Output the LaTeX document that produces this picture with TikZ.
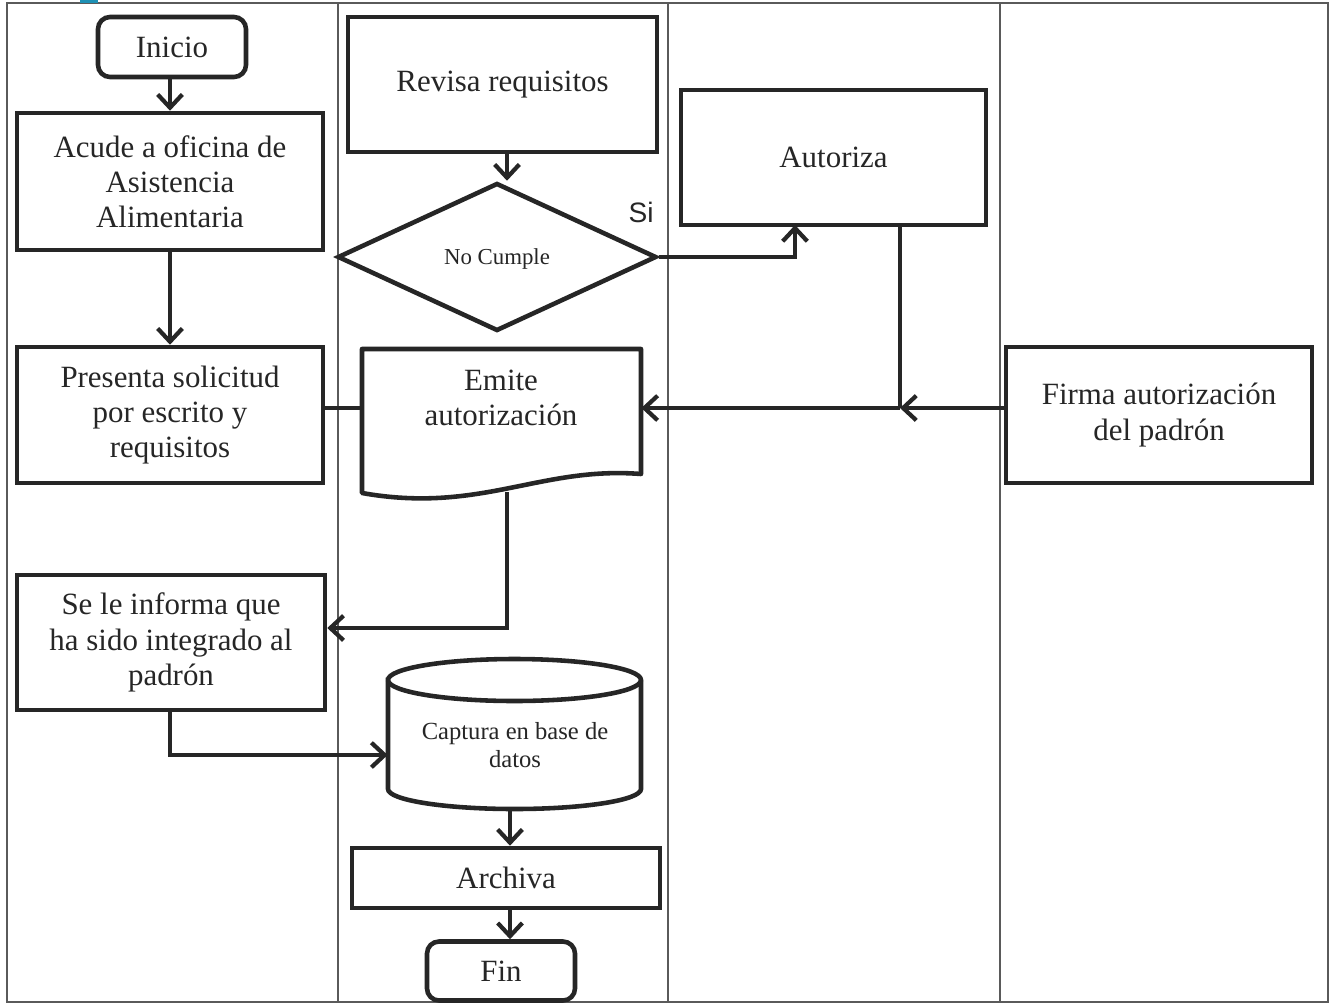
\documentclass[tikz,border=0pt]{standalone}
\usepackage{fontspec}
\setmainfont{Liberation Serif}
\newfontfamily\sansf{Liberation Sans}
\usetikzlibrary{arrows.meta,shapes.geometric,calc}
\definecolor{ink}{HTML}{262626}
\definecolor{lane}{HTML}{5A5A5A}
\definecolor{tab}{HTML}{1E90B4}
\begin{document}
\begin{tikzpicture}[x=0.02cm,y=-0.02cm,
  shp/.style={draw=ink,line width=2.6pt,fill=white,inner sep=0pt,align=center,
    text=ink,font=\fontsize{17.6}{20}\selectfont},
  proc/.style={shp,rectangle},
  term/.style={shp,rectangle,rounded corners=0.24cm},
  anchorbox/.style={rectangle,inner sep=0pt},
  txt/.style={align=center,text=ink,inner sep=0pt,font=\fontsize{17.6}{20}\selectfont},
  small/.style={align=center,text=ink,inner sep=0pt,font=\fontsize{14}{15.5}\selectfont},
  link/.style={draw=ink,line width=2.6pt},
  arr/.style={link,-{Straight Barb[length=7.5pt,width=14pt,line width=2.4pt]}},
  lanes/.style={draw=lane,line width=1pt}
]
\useasboundingbox (0,0) rectangle (1331,1004);
\fill[white] (0,0) rectangle (1331,1004);

% swimlane frame
\draw[lanes] (7,3) rectangle (1328,1002);
\draw[lanes] (338,3) -- (338,1002);
\draw[lanes] (668,3) -- (668,1002);
\draw[lanes] (1000,3) -- (1000,1002);
\fill[tab] (80,0) rectangle (98,3);

% lane 1
\node[term, minimum width=2.96cm, minimum height=1.2cm] (ini) at (172,47) {Inicio};
\node[proc, minimum width=6.12cm, minimum height=2.74cm] (acude) at (170,181.5)
  {Acude a oficina de\\Asistencia\\Alimentaria};
\node[proc, minimum width=6.12cm, minimum height=2.72cm] (pres) at (170,415)
  {Presenta solicitud\\por escrito y\\requisitos};
\node[proc, minimum width=6.16cm, minimum height=2.7cm] (info) at (171,642.5)
  {Se le informa que\\ha sido integrado al\\padrón};

% lane 2
\node[proc, minimum width=6.18cm, minimum height=2.7cm] (rev) at (502.5,84.5) {Revisa requisitos};
\node[shp, diamond, minimum width=6.38cm, minimum height=2.96cm] (dec) at (497,257) {};
\node[small, font=\fontsize{13}{15}\selectfont] (dectxt) at (497,259) {No Cumple};
\node[text=ink, inner sep=0pt, font=\sansf\fontsize{16}{18}\selectfont] (si) at (641,212) {Si};

% document shape
\node[anchorbox, minimum width=5.58cm, minimum height=2.84cm] (emite) at (501.5,420) {};
\draw[draw=ink,line width=2.6pt,fill=white,line join=round]
  (362,349) -- (641,349) -- (641,474)
  .. controls (540,466) and (480,514) .. (362,493) -- cycle;
\node[txt] (emitetxt) at (501,398) {Emite\\autorización};

% database shape
\node[anchorbox, minimum width=5.06cm, minimum height=3.04cm] (cyl) at (514.5,734) {};
\draw[draw=ink,line width=2.6pt,fill=white]
  (388,680) -- (388,789) arc[start angle=180,end angle=360,x radius=126.5,y radius=-20]
  -- (641,680) arc[start angle=0,end angle=180,x radius=126.5,y radius=-21] -- cycle;
\draw[draw=ink,line width=2.6pt]
  (388,680) arc[start angle=180,end angle=360,x radius=126.5,y radius=-21];
\node[small] (cyltxt) at (515,745) {Captura en base de\\datos};

\node[proc, minimum width=6.16cm, minimum height=1.2cm] (arch) at (506,878) {Archiva};
\node[term, minimum width=2.96cm, minimum height=1.18cm] (fin) at (501,971) {Fin};

% lane 3
\node[proc, minimum width=6.1cm, minimum height=2.7cm] (aut) at (833.5,157.5) {Autoriza};

% lane 4
\node[proc, minimum width=6.12cm, minimum height=2.72cm] (firma) at (1159,415)
  {Firma autorización\\del padrón};

% junction points
\coordinate (j) at (900,408);
\coordinate (k) at (507,628);
\coordinate (m) at (170,755);
\coordinate (up) at (795,225);

% connectors
\draw[arr] (ini.south -| acude.north) -- (acude.north);
\draw[arr] (acude.south) -- (pres.north);
\draw[link] (pres.east |- j) -- (emite.west |- j);
\draw[arr] (rev.south -| 507,0) -- (dec.north -| 507,0);
\draw[arr] (dec.east) -- (dec.east -| up) -- (up);
\draw[link] (aut.south -| j) -- (j);
\draw[arr] (firma.west |- j) -- (j);
\draw[arr] (j) -- (emite.east |- j);
\draw[arr] (k |- 0,492) -- (k) -- (info.east |- k);
\draw[arr] (info.south -| m) -- (m) -- (cyl.west |- m);
\draw[arr] (510,810) -- (arch.north -| 510,0);
\draw[arr] (arch.south -| 510,0) -- (fin.north -| 510,0);
\end{tikzpicture}
\end{document}
